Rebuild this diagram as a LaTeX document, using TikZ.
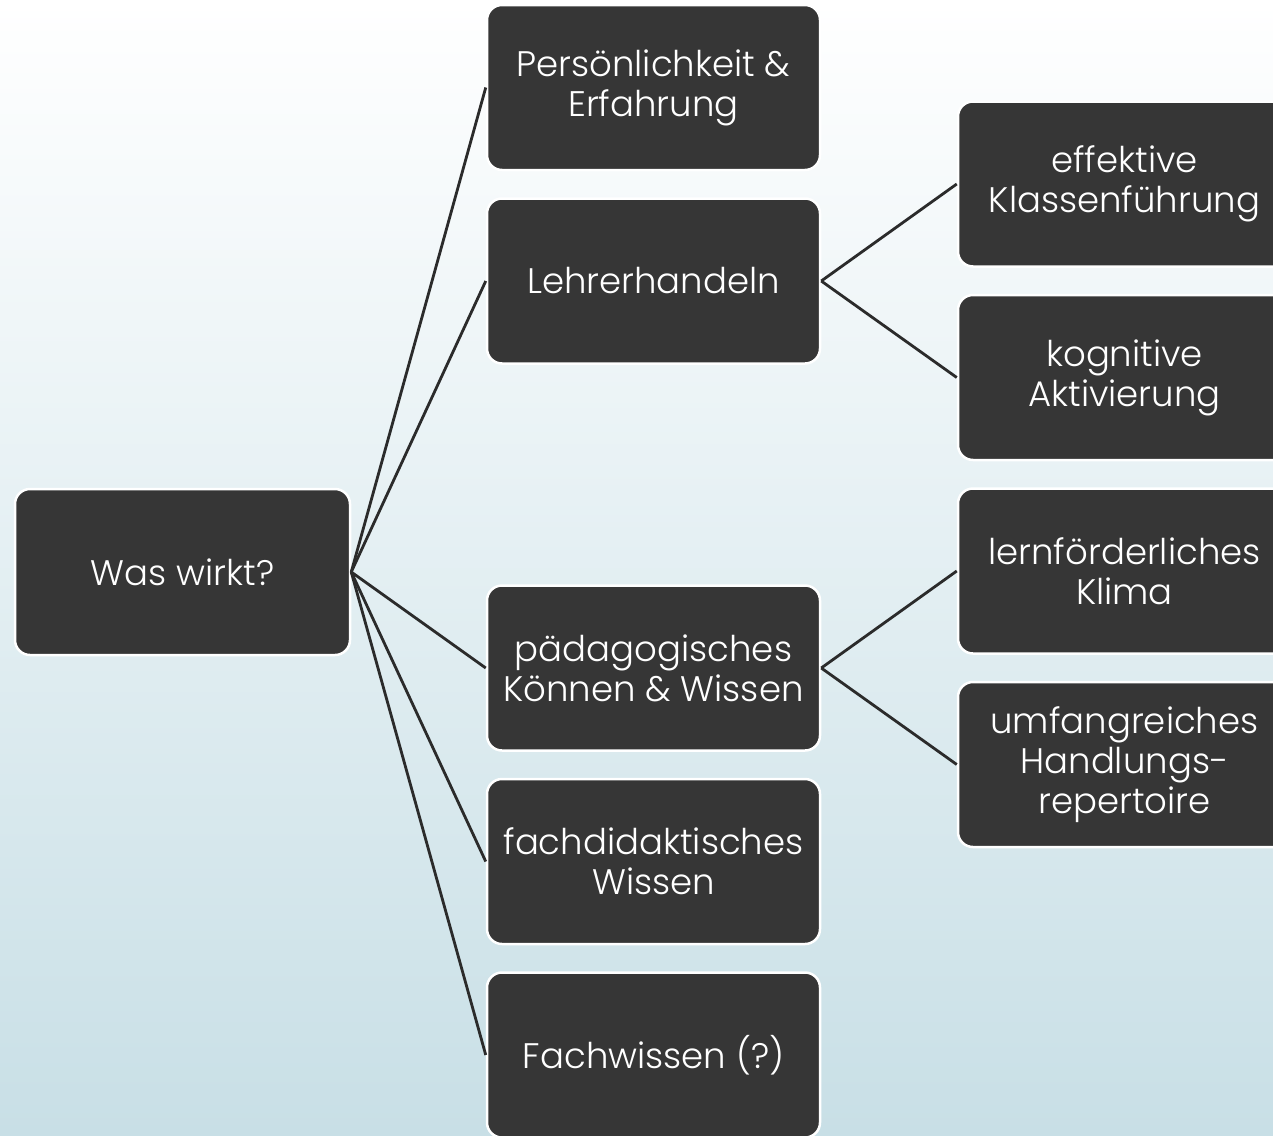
\documentclass[tikz,border=0pt]{standalone}
\usepackage{fontspec}
\setmainfont{Poppins Light}
\definecolor{boxfill}{HTML}{363636}
\definecolor{bgbottom}{RGB}{200,223,230}
\definecolor{linkcol}{HTML}{2B2B2B}
\begin{document}
\begin{tikzpicture}[x=1pt,y=-1pt,
  box/.style={draw=white, line width=2.5pt, fill=boxfill, rounded corners=15pt,
    minimum width=333pt, minimum height=165pt, inner sep=0pt, text=white,
    align=center, font=\fontsize{35.5}{40}\selectfont},
  link/.style={draw=linkcol, line width=2.8pt}]
  % page and background gradient
  \shade[top color=white, bottom color=bgbottom] (0,0) rectangle (1273,1135);
  \clip (0,0) rectangle (1273,1135);

  % root
  \node[box, minimum width=335pt, minimum height=166pt] (root) at (182.5,572) {Was wirkt?};

  % middle column
  \node[box] (pers) at (653.5,87.5) {Persönlichkeit \&\\Erfahrung};
  \node[box] (lehr) at (653.5,281) {Lehrerhandeln};
  \node[box] (paed) at (653.5,668) {pädagogisches\\Können \& Wissen};
  \node[box] (fdid) at (653.5,861.5) {fachdidaktisches\\Wissen};
  \node[box] (fach) at (653.5,1055) {Fachwissen (?)};

  % right column
  \node[box] (klass) at (1124.5,184) {effektive\\Klassenführung};
  \node[box] (kogn) at (1124.5,377.5) {kognitive\\Aktivierung};
  \node[box] (klima) at (1124.5,571) {lernförderliches\\Klima};
  \node[box] (rep) at (1124.5,764.5) {umfangreiches\\Handlungs-\\repertoire};

  % connectors
  \foreach \t in {pers,lehr,paed,fdid,fach}
    \draw[link] (root.east) -- (\t.west);
  \draw[link] (lehr.east) -- (klass.west);
  \draw[link] (lehr.east) -- (kogn.west);
  \draw[link] (paed.east) -- (klima.west);
  \draw[link] (paed.east) -- (rep.west);
\end{tikzpicture}
\end{document}
